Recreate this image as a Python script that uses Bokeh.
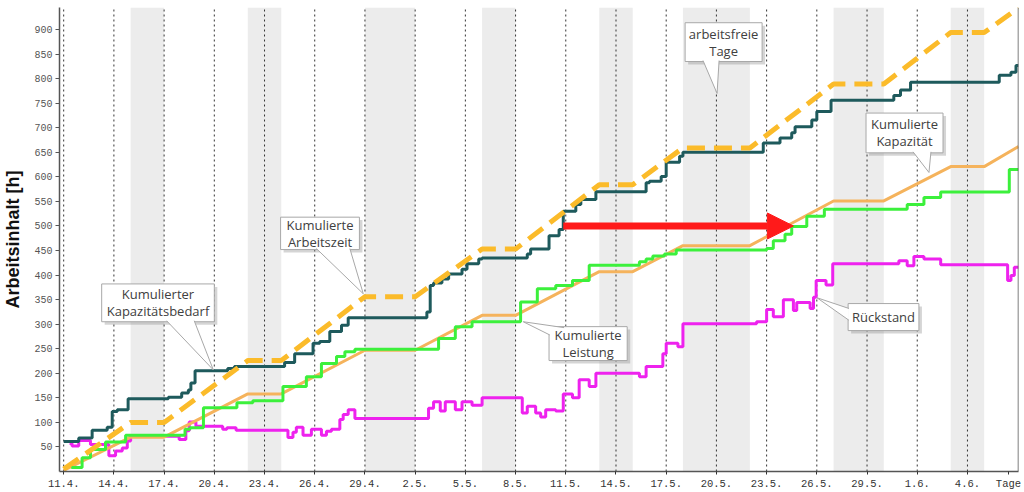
from bokeh.plotting import figure
from bokeh.models import FixedTicker, Label, Arrow, NormalHead, Span, Range1d
from bokeh.embed import file_html
from bokeh.resources import INLINE

# ---- data (x = days after 11.4.) ----
tick_days = [0, 3, 6, 9, 12, 15, 18, 21, 24, 27, 30, 33, 36, 39, 42, 45, 48, 51, 54]
tick_labels = ["11.4.", "14.4.", "17.4.", "20.4.", "23.4.", "26.4.", "29.4.", "2.5.", "5.5.",
               "8.5.", "11.5.", "14.5.", "17.5.", "20.5.", "23.5.", "26.5.", "29.5.", "1.6.", "4.6."]
unit_pos, unit_label = 56.45, "Tage"
y_ticks = list(range(50, 901, 50))

free_start = [4, 11, 18, 25, 32, 37, 46, 53]
free_end = [6, 13, 21, 27, 34, 41, 49, 55]

# Kumulierte Arbeitszeit (dashed)
az_x = [0, 4, 6, 11, 13, 18, 21, 25, 27, 32, 34, 37, 41, 46, 49, 53, 55, 57.05]
az_y = [5, 100, 100, 226, 226, 356, 356, 453, 453, 584, 584, 659, 659, 789, 789, 894, 894, 944]

# Kumulierte Kapazität
kap_x = [0, 4, 6, 11, 13, 18, 21, 25, 27, 32, 34, 37, 41, 46, 49, 53, 55, 57.05]
kap_y = [2, 70, 70, 158, 158, 247, 247, 318, 318, 407, 407, 460, 460, 551, 551, 621, 621, 662]

# Kumulierter Kapazitätsbedarf (step)
bed_x = [0, 0.9, 1.7, 2.6, 2.9, 3.2, 3.85, 6.25, 7.05, 7.45, 7.6, 7.85, 9.8, 10.2, 13.2, 13.8,
         14.9, 15.3, 15.9, 16.6, 17.0, 21.7, 21.9, 22.1, 22.6, 23.0, 23.8, 24.1, 24.8, 25.0,
         27.7, 27.9, 29.0, 29.6, 29.85, 30.6, 30.9, 31.8, 34.8, 35.0, 35.7, 36.0, 36.8, 37.0,
         41.8, 42.8, 43.5, 43.7, 44.7, 45.0, 45.85, 49.6, 50.0, 50.6, 55.9, 56.6, 56.9]
bed_y = [61, 68, 84, 90, 122, 126, 148, 151, 160, 166, 180, 205, 210, 214, 222, 240,
         261, 265, 285, 298, 313, 325, 379, 384, 392, 402, 412, 423, 433, 435,
         443, 453, 480, 493, 530, 544, 554, 570, 588, 591, 601, 630, 642, 650,
         669, 679, 690, 702, 716, 733, 756, 766, 777, 793, 807, 813, 827]

# Kumulierte Leistung (step)
lei_x = [0.45, 1.1, 1.6, 2.5, 3.7, 7.25, 7.55, 8.35, 10.35, 11.3, 13.1, 14.5, 15.4, 16.3, 16.8,
         17.4, 22.4, 23.4, 24.4, 27.3, 28.3, 29.4, 30.4, 31.4, 34.4, 34.8, 35.2, 35.9, 36.6,
         42.0, 42.4, 43.1, 43.5, 44.4, 45.45, 50.4, 51.4, 52.4, 56.5]
lei_y = [8, 28, 45, 60, 74, 86, 89, 130, 140, 144, 173, 193, 220, 234, 244,
         249, 271, 295, 305, 345, 372, 379, 389, 420, 427, 433, 439, 443, 451,
         454, 470, 483, 499, 520, 534, 544, 558, 569, 615]

# Rückstand (step)
rue_x = [0.35, 0.5, 0.9, 1.6, 2.7, 3.1, 3.5, 3.8, 4.0, 6.3, 6.9, 7.3, 7.5, 7.9, 9.5, 9.75, 10.3,
         13.4, 13.7, 13.9, 14.3, 14.8, 15.4, 15.7, 16.0, 16.5, 16.7, 17.0, 17.4, 21.8, 22.1,
         22.5, 22.8, 23.4, 23.8, 24.4, 25.0, 27.4, 27.7, 28.2, 28.5, 28.8, 29.4, 29.85, 30.4,
         30.8, 31.4, 31.8, 34.4, 34.8, 35.8, 36.0, 36.7, 37.0, 41.4, 42.0, 42.4, 43.0, 43.6,
         43.8, 44.6, 44.8, 44.96, 45.55, 45.95, 49.9, 50.4, 50.8, 51.4, 52.4, 56.4, 56.6, 56.8]
rue_y = [57, 52, 63, 55, 32, 42, 48, 62, 72, 72, 65, 83, 101, 92, 86, 89, 84,
         69, 80, 90, 74, 86, 74, 82, 86, 106, 116, 126, 108, 129, 142,
         123, 142, 126, 142, 135, 150, 119, 133, 119, 111, 126, 123, 158, 150,
         187, 173, 200, 193, 214, 240, 261, 254, 301, 305, 330, 315, 350, 328,
         344, 332, 355, 389, 380, 423, 429, 419, 438, 433, 421, 389, 399, 416]

X_START, X_END = -0.25, 57.05
Y_END = 945

# arrow (shift of performance)
arrow_x0, arrow_x1, arrow_y = 29.85, 43.6, 500

p = figure(width=1024, height=492, output_backend="svg", toolbar_location=None,
           x_range=Range1d(X_START, X_END), y_range=Range1d(0, Y_END),
           min_border_left=58, min_border_right=6, min_border_top=7, min_border_bottom=18)
p.outline_line_color = None
p.background_fill_color = "white"
p.border_fill_color = "white"
p.xgrid.visible = False
p.ygrid.visible = False

# free days
p.quad(left=free_start, right=free_end, bottom=0, top=Y_END, fill_color="#ececec", line_color=None)
# dotted day lines
p.segment(x0=tick_days, y0=0, x1=tick_days, y1=Y_END, line_color="#333333",
          line_width=1, line_dash="2 3")

# axes
xa = p.xaxis[0]
xa.ticker = FixedTicker(ticks=tick_days + [unit_pos])
overrides = {d: l for d, l in zip(tick_days, tick_labels)}
overrides[unit_pos] = unit_label
xa.major_label_overrides = overrides
xa.major_label_text_font = "Liberation Mono"
xa.major_label_text_font_size = "10.5px"
xa.major_label_text_color = "#333333"
xa.axis_line_color = "#555555"
xa.axis_line_width = 1.5
xa.major_tick_in = 0
xa.major_tick_out = 3
xa.major_tick_line_color = "#333333"
xa.minor_tick_line_color = None
xa.major_label_standoff = 3

ya = p.yaxis[0]
ya.ticker = FixedTicker(ticks=y_ticks)
ya.major_label_text_font = "Liberation Mono"
ya.major_label_text_font_size = "10px"
ya.major_label_text_color = "#555555"
ya.axis_line_color = "#555555"
ya.axis_line_width = 1.5
ya.major_tick_in = 0
ya.major_tick_out = 4
ya.major_tick_line_color = "#555555"
ya.minor_tick_line_color = None
ya.major_label_standoff = 3
ya.axis_label = "Arbeitsinhalt [h]"
ya.axis_label_text_font = "Liberation Sans"
ya.axis_label_text_font_style = "bold"
ya.axis_label_text_font_size = "18px"
ya.axis_label_text_color = "#111111"
ya.axis_label_standoff = 8

p.add_layout(Span(location=X_END, dimension="height", line_color="#555555", line_width=1.5))

def ext(xs, ys):
    return list(xs) + [X_END], list(ys) + [ys[-1]]

# series
rx, ry = ext(rue_x, rue_y)
p.step(rx, ry, mode="after", line_color="#ee22ee", line_width=3)
p.line(kap_x, kap_y, line_color="#f5b35c", line_width=3)
lx, ly = ext(lei_x, lei_y)
p.step(lx, ly, mode="after", line_color="#3cf03c", line_width=3)
bx, by = ext(bed_x, bed_y)
p.step(bx, by, mode="after", line_color="#1e5a5c", line_width=3)
p.line(az_x, az_y, line_color="#fbbb2a", line_width=5, line_dash="18 9")

p.add_layout(Arrow(x_start=arrow_x0, y_start=arrow_y, x_end=arrow_x1, y_end=arrow_y,
                   line_color="#ff1a1a", line_width=7,
                   end=NormalHead(size=26, fill_color="#ff1a1a", line_color="#ff1a1a")))

# callouts: (box left, right, bottom, top), text, pointer (tip, base points)
def callout(l, r, b, t, text, tip, b1, b2):
    dx, dy = 0.18, -6
    p.quad(left=[l + dx], right=[r + dx], bottom=[b + dy], top=[t + dy],
           fill_color="#888888", fill_alpha=0.35, line_color=None)
    p.quad(left=[l], right=[r], bottom=[b], top=[t], fill_color="white",
           line_color="#a8a8a8", line_width=1)
    p.patch([tip[0], b1[0], b2[0]], [tip[1], b1[1], b2[1]], fill_color="white", line_color=None)
    p.segment(x0=[tip[0], tip[0]], y0=[tip[1], tip[1]], x1=[b1[0], b2[0]], y1=[b1[1], b2[1]],
              line_color="#a8a8a8", line_width=1)
    p.add_layout(Label(x=(l + r) / 2, y=(b + t) / 2, text=text, text_align="center",
                       text_baseline="middle", text_font="Open Sans", text_font_size="13px",
                       text_color="#404040", text_line_height=0.95))

callout(2.27, 9.0, 305, 382, "Kumulierter\nKapazitätsbedarf", (8.94, 207), (6.15, 307), (7.8, 307))
callout(12.96, 17.67, 452, 518, "Kumulierte\nArbeitszeit", (17.9, 362), (15.1, 454), (17.1, 454))
callout(29.0, 33.67, 226, 295, "Kumulierte\nLeistung", (27.46, 305), (29.05, 278), (29.9, 293))
callout(37.13, 41.73, 835, 914, "arbeitsfreie\nTage", (39.04, 770), (38.2, 837), (39.16, 837))
callout(47.94, 52.54, 649, 730, "Kumulierte\nKapazität", (51.7, 609), (50.75, 651), (51.82, 651))
callout(46.87, 51.1, 287, 342, "Rückstand", (45.0, 354), (46.92, 308), (46.92, 332))

open("out.html", "w").write(file_html(p, INLINE))
